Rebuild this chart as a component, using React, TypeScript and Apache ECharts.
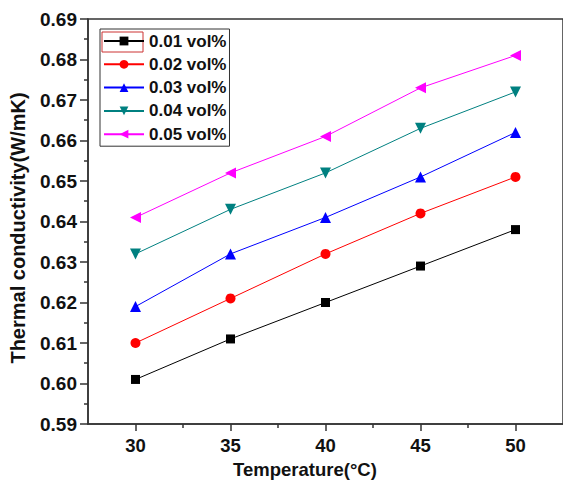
import React, { useEffect, useRef } from "react";
import * as echarts from "echarts";

const temperatures = [30, 35, 40, 45, 50];
const seriesNames = ["0.01 vol%", "0.02 vol%", "0.03 vol%", "0.04 vol%", "0.05 vol%"];
const s001 = [0.601, 0.611, 0.620, 0.629, 0.638];
const s002 = [0.610, 0.621, 0.632, 0.642, 0.651];
const s003 = [0.619, 0.632, 0.641, 0.651, 0.662];
const s004 = [0.632, 0.643, 0.652, 0.663, 0.672];
const s005 = [0.641, 0.652, 0.661, 0.673, 0.681];
const xMajor = [30, 35, 40, 45, 50];
const xMinor = [32.5, 37.5, 42.5, 47.5];

const FONT = "Liberation Sans, Arial, sans-serif";

export default function App() {
  const ref = useRef<HTMLDivElement>(null);
  useEffect(() => {
    if (!ref.current) return;
    const chart = echarts.init(ref.current, null, { renderer: "svg" });
    const values = [s001, s002, s003, s004, s005];
    const colors = ["#000000", "#ff0000", "#0000ff", "#008080", "#ff00ff"];
    const symbols = ["rect", "circle", "triangle", "triangle", "triangle"];
    const rotations = [0, 0, 0, 180, 90];
    const sizes = [9, 10, 11, 11, 11];
    const series = values.map((vals, i) => ({
      name: seriesNames[i],
      type: "line",
      xAxisIndex: 0,
      data: vals.map((v, j) => [temperatures[j], v]),
      symbol: symbols[i],
      symbolRotate: rotations[i],
      symbolSize: sizes[i],
      itemStyle: { color: colors[i] },
      lineStyle: { color: colors[i], width: 1 },
      showAllSymbol: true,
    }));
    const axisColor = "#333333";
    chart.setOption({
      animation: false,
      backgroundColor: "#ffffff",
      grid: {
        left: 88,
        top: 19,
        width: 478,
        height: 405,
        show: true,
        borderColor: axisColor,
        borderWidth: 1.5,
        backgroundColor: "transparent",
      },
      legend: {
        left: 100,
        top: 29,
        orient: "vertical",
        padding: [3, 3, 3, 3],
        borderColor: axisColor,
        borderWidth: 1,
        itemWidth: 40,
        itemHeight: 11,
        itemGap: 5.3,
        textStyle: {
          fontFamily: FONT,
          fontWeight: "bold",
          fontSize: 17,
          lineHeight: 18,
          color: "#111",
        },
        data: seriesNames,
      },
      xAxis: [
        {
          type: "value",
          min: 27.5,
          max: 52.5,
          position: "bottom",
          splitLine: { show: false },
          axisLine: { lineStyle: { color: axisColor, width: 1.5 } },
          axisTick: {
            show: true,
            length: 7,
            customValues: xMajor,
            lineStyle: { color: axisColor, width: 1.5 },
          },
          axisLabel: {
            customValues: xMajor,
            margin: 12,
            fontFamily: FONT,
            fontWeight: "bold",
            fontSize: 18.5,
            color: "#111",
          },
        },
        {
          type: "value",
          min: 27.5,
          max: 52.5,
          position: "bottom",
          splitLine: { show: false },
          axisLine: { show: false },
          axisTick: {
            show: true,
            length: 4,
            customValues: xMinor,
            lineStyle: { color: axisColor, width: 1.5 },
          },
          axisLabel: { show: false },
        },
      ],
      yAxis: {
        type: "value",
        min: 0.59,
        max: 0.69,
        interval: 0.01,
        splitLine: { show: false },
        axisLine: { show: true, lineStyle: { color: axisColor, width: 1.5 } },
        axisTick: { show: true, length: 8, lineStyle: { color: axisColor, width: 1.5 } },
        minorTick: { show: true, splitNumber: 2, length: 4, lineStyle: { color: axisColor, width: 1.5 } },
        axisLabel: {
          margin: 11,
          formatter: (v: number) => v.toFixed(2),
          fontFamily: FONT,
          fontWeight: "bold",
          fontSize: 19,
          color: "#111",
        },
      },
      graphic: [
        {
          type: "text",
          x: 18,
          y: 228,
          rotation: Math.PI / 2,
          style: {
            text: "Thermal conductivity(W/mK)",
            fontFamily: FONT,
            fontWeight: "bold",
            fontSize: 20,
            fill: "#111",
            align: "center",
            verticalAlign: "middle",
          },
        },
        {
          type: "text",
          x: 305,
          y: 469,
          style: {
            text: "Temperature(°C)",
            fontFamily: FONT,
            fontWeight: "bold",
            fontSize: 18.5,
            fill: "#111",
            align: "center",
            verticalAlign: "middle",
          },
        },
        {
          type: "rect",
          shape: { x: 102, y: 32, width: 41, height: 20 },
          style: { fill: "none", stroke: "#cc3333", lineWidth: 1 },
        },
      ],
      series,
    });
    return () => chart.dispose();
  }, []);
  return (
    <div
      ref={ref}
      style={{ position: "fixed", left: 0, top: 0, width: 563, height: 484 }}
    />
  );
}
